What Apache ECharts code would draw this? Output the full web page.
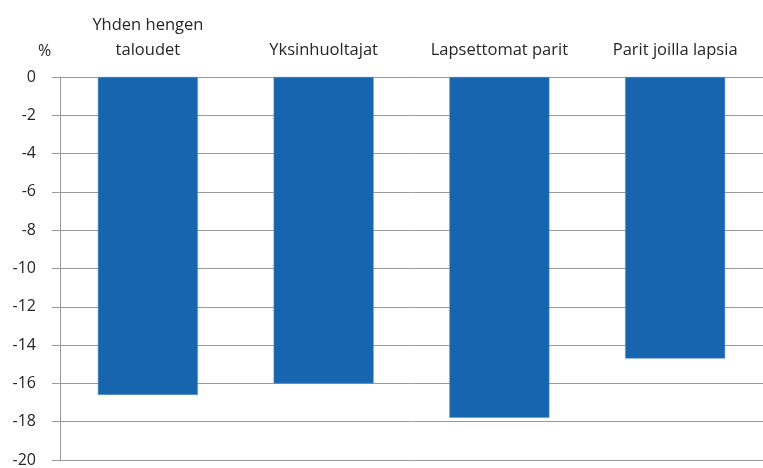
<!DOCTYPE html>
<html lang="fi">
<head>
    <meta charset="UTF-8">
    <title>Muutos</title>
    <script src="https://cdn.jsdelivr.net/npm/echarts@6/dist/echarts.min.js"></script>
    <style>
        html, body { margin: 0; padding: 0; background: #fff; }
        #chart { width: 763px; height: 468px; }
    </style>
</head>
<body>
<div id="chart"></div>
<script>
    var categories = ['Yhden hengen\ntaloudet', 'Yksinhuoltajat', 'Lapsettomat parit', 'Parit joilla lapsia'];
    var values = [-16.6, -16.0, -17.8, -14.7];

    var myChart = echarts.init(document.getElementById('chart'));
    var option = {
        animation: false,
        textStyle: { fontFamily: 'Open Sans' },
        title: {
            text: '%',
            left: 33,
            top: 38,
            textStyle: { fontSize: 16, fontWeight: 'normal', color: '#262626' }
        },
        grid: { left: 60, right: -4, top: 77, bottom: 7, containLabel: false },
        xAxis: {
            type: 'category',
            position: 'top',
            data: categories,
            axisLine: { lineStyle: { color: '#999', width: 1 } },
            axisTick: { inside: true, length: 5, lineStyle: { color: '#999' } },
            axisLabel: { interval: 0, hideOverlap: false, color: '#262626', fontSize: 16.5, margin: 14, lineHeight: 25, verticalAlign: 'bottom' }
        },
        yAxis: {
            type: 'value',
            min: -20,
            max: 0,
            interval: 2,
            axisLine: { show: true, lineStyle: { color: '#999' } },
            axisTick: { show: true, length: 8, lineStyle: { color: '#999' } },
            splitLine: { show: true, lineStyle: { color: '#999', width: 1 } },
            axisLabel: { color: '#262626', fontSize: 16, margin: 24 }
        },
        series: [{
            type: 'bar',
            data: values,
            barWidth: 100,
            itemStyle: { color: '#1765AE', borderColor: '#5a8fd0', borderWidth: 0.5 }
        }]
    };
    myChart.setOption(option);
</script>
</body>
</html>
